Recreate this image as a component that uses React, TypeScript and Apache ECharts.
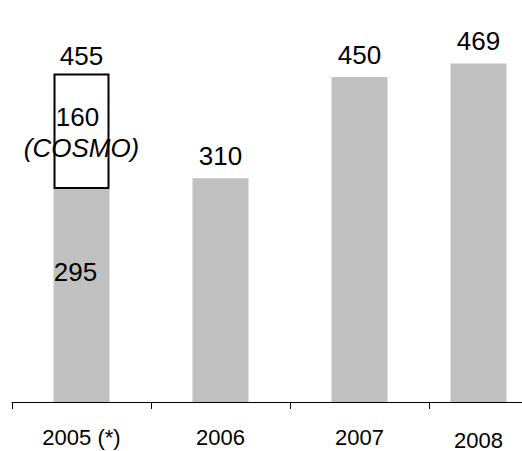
import React, { useEffect, useRef } from "react";
import * as echarts from "echarts";

const categories = ["2005 (*)", "2006", "2007", "2008"];
const baseValues = [295, 310, 450, 469];
const cosmoValues: (number | null)[] = [160, null, null, null];
const cosmoName = "(COSMO)";

const FONT = "Liberation Sans, Arial, sans-serif";
const GRAY = "#C0C0C0";

export default function App() {
  const ref = useRef<HTMLDivElement>(null);

  useEffect(() => {
    document.body.style.margin = "0";
    if (!ref.current) return;
    const chart = echarts.init(ref.current, undefined, { renderer: "svg" });

    const valueLabel = {
      show: true,
      position: "top" as const,
      distance: 9,
      fontSize: 26,
      color: "#000",
      fontFamily: FONT,
    };

    const lastIndex = categories.length - 1;

    chart.setOption({
      animation: false,
      grid: {
        left: 12,
        top: 41,
        width: 556,
        height: 361,
        containLabel: false,
        outerBoundsMode: "none",
      },
      xAxis: {
        type: "category",
        data: categories,
        axisLine: { show: true, lineStyle: { color: "#000", width: 1 } },
        axisTick: { show: true, length: 7, lineStyle: { color: "#000", width: 1 } },
        axisLabel: {
          fontSize: 22,
          color: "#000",
          fontFamily: FONT,
          margin: 24,
          formatter: (v: string) => (v === categories[lastIndex] ? `{s|${v}}` : v),
          rich: { s: { fontSize: 22, fontFamily: FONT, color: "#000", padding: [3, 40, 0, 0] } },
        },
        splitLine: { show: false },
      },
      yAxis: { type: "value", min: 0, max: 500, show: false },
      series: [
        {
          type: "bar",
          name: categories[lastIndex],
          stack: "late",
          barWidth: 56,
          barGap: "-64.3%",
          data: baseValues.map((v, i) => (i === lastIndex ? v : null)),
          itemStyle: { color: GRAY },
          label: valueLabel,
        },
        {
          type: "bar",
          name: "base",
          stack: "main",
          barWidth: 56,
          barGap: "-64.3%",
          data: baseValues.map((v, i) => {
            if (i === lastIndex) return null;
            if (cosmoValues[i] != null) {
              return { value: v, label: { position: "inside", offset: [-6, -24] } };
            }
            return v;
          }),
          itemStyle: { color: GRAY },
          label: valueLabel,
        },
        {
          type: "bar",
          name: "COSMO",
          stack: "main",
          barWidth: 56,
          barGap: "-64.3%",
          data: cosmoValues,
          itemStyle: { color: "#fff", borderColor: "#000", borderWidth: 2 },
          label: {
            show: true,
            position: "inside",
            offset: [0, 1],
            fontFamily: FONT,
            color: "#000",
            fontSize: 26,
            formatter: (p: any) => `{a|${cosmoValues[p.dataIndex]}}\n{b|${cosmoName}}`,
            rich: {
              a: { fontSize: 26, lineHeight: 31, fontFamily: FONT, color: "#000", padding: [0, 8, 0, 0] },
              b: { fontSize: 26, lineHeight: 31, fontFamily: FONT, color: "#000", fontStyle: "italic" },
            },
          },
        },
        {
          type: "bar",
          name: "total",
          stack: "main",
          barWidth: 56,
          barGap: "-64.3%",
          data: cosmoValues.map((c) => (c == null ? null : 0)),
          itemStyle: { color: "rgba(0,0,0,0)", borderWidth: 0 },
          label: {
            ...valueLabel,
            distance: 4,
            formatter: (p: any) =>
              String(baseValues[p.dataIndex] + (cosmoValues[p.dataIndex] as number)),
          },
        },
        {
          type: "bar",
          name: "pad",
          stack: "pad",
          barWidth: 56,
          barGap: "-64.3%",
          data: [],
        },
      ],
    });

    return () => chart.dispose();
  }, []);

  return <div ref={ref} style={{ width: 522, height: 451 }} />;
}
